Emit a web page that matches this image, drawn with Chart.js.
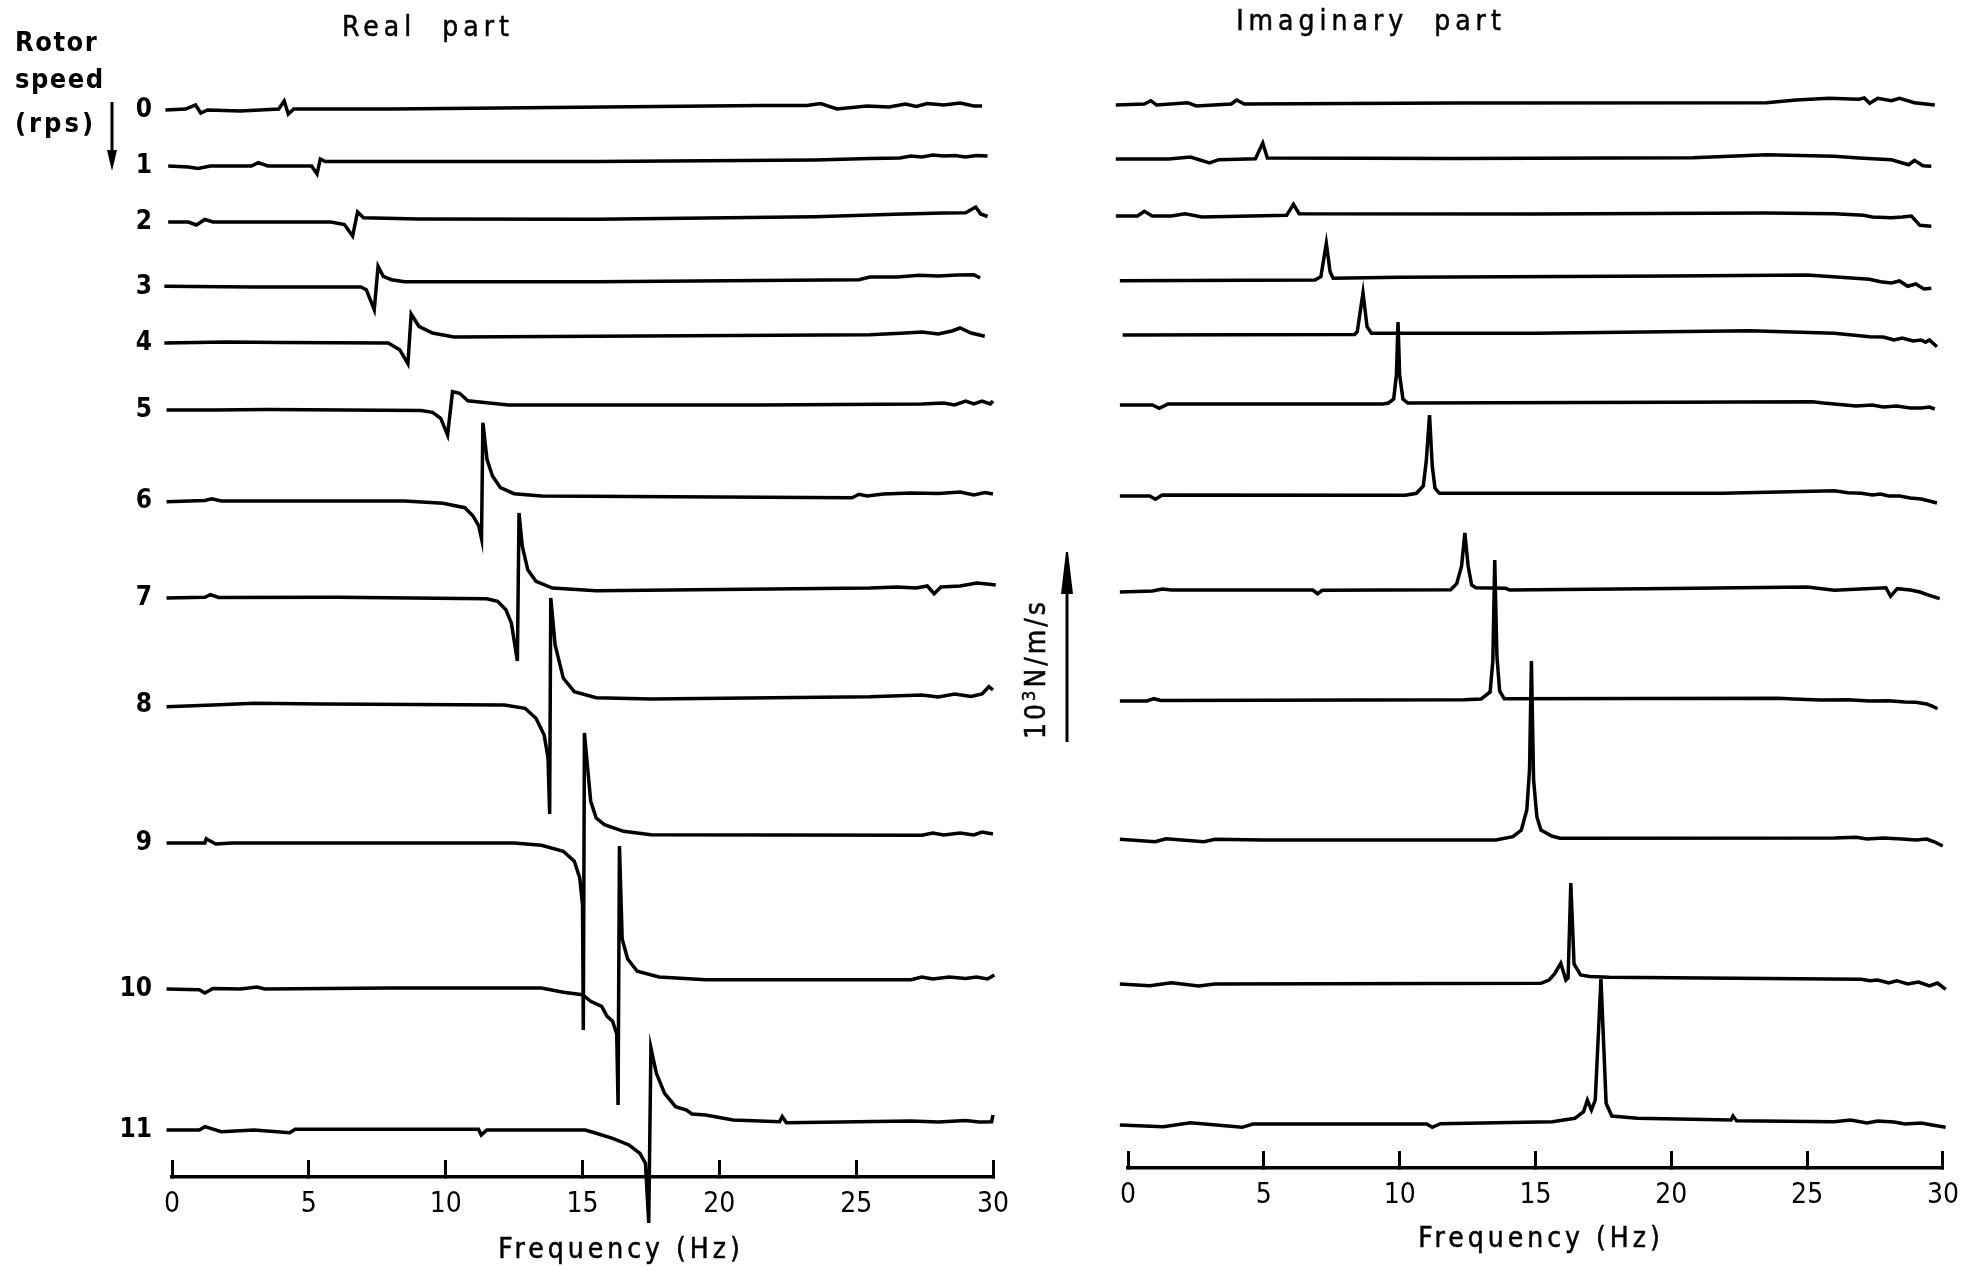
<!DOCTYPE html>
<html>
<head>
<meta charset="utf-8">
<script src="https://cdn.jsdelivr.net/npm/chart.js@4/dist/chart.umd.min.js"></script>
<style>
  body { margin: 0; background: #fff; }
  #wrap { position: relative; width: 1987px; height: 1271px; background: #fff; overflow: hidden;
          font-family: "DejaVu Sans Condensed", "Liberation Sans Narrow", "DejaVu Sans", sans-serif; color: #000; }
  canvas { position: absolute; top: 0; }
  .lbl { position: absolute; white-space: nowrap; font-size: 28px; letter-spacing: 5px; -webkit-text-stroke: 0.5px #000; }
  .rotor { position: absolute; left: 15px; font-weight: bold; font-size: 27px; letter-spacing: 1.5px; line-height: 30px; }
</style>
</head>
<body>
<div id="wrap">
  <canvas id="realChart" width="1060" height="1271" style="left:0;width:1060px;height:1271px"></canvas>
  <canvas id="imagChart" width="977" height="1271" style="left:1010px;width:977px;height:1271px"></canvas>

  <div class="rotor" style="top:27px">Rotor</div>
  <div class="rotor" style="top:64px">speed</div>
  <div class="rotor" style="top:108px;letter-spacing:3px">(rps)</div>
  <svg style="position:absolute;left:0;top:0" width="200" height="200">
    <line x1="112" y1="102" x2="112" y2="152" stroke="#000" stroke-width="3"/>
    <polygon points="107,150 117,150 112,171" fill="#000"/>
  </svg>

  <div class="lbl" style="left:328px;top:10px;width:200px;text-align:center">Real&nbsp;&nbsp;part</div>
  <div class="lbl" style="left:1221px;top:4px;width:300px;text-align:center">Imaginary&nbsp;&nbsp;part</div>
  <div class="lbl" style="left:471px;top:1232px;width:300px;text-align:center;letter-spacing:4px">Frequency (Hz)</div>
  <div class="lbl" style="left:1391px;top:1221px;width:300px;text-align:center;letter-spacing:4px">Frequency (Hz)</div>

  <div class="lbl" style="left:1035px;top:669px;transform:translate(-50%,-50%) rotate(-90deg);letter-spacing:3px">10<sup style="font-size:18px">3</sup>N/m/s</div>
  <svg style="position:absolute;left:1040px;top:540px" width="60" height="220">
    <line x1="27" y1="40" x2="27" y2="202" stroke="#000" stroke-width="3"/>
    <polygon points="21,54 33,54 28,12 26,12" fill="#000"/>
  </svg>
</div>

<script>
// frequency axis and rotor speeds
const freqTicks = [0, 5, 10, 15, 20, 25, 30];
const rotorSpeeds = [0, 1, 2, 3, 4, 5, 6, 7, 8, 9, 10, 11];

// baseline level of each trace (arbitrary units)
const realOffset = [106.7, 101.1, 95.5, 89.0, 83.4, 76.7, 67.6, 57.9, 47.2, 33.4, 18.8, 4.7];
const imagOffset = [106.4, 100.9, 95.2, 88.8, 83.3, 76.3, 67.2, 57.7, 46.7, 32.8, 18.4, 4.3];

// real part traces: [frequency Hz, deviation from baseline]
const real0 = [[-0.24,0],[0.5,0.1],[0.86,0.5],[1.05,-0.3],[1.3,0],[2.5,-0.1],[3.9,0.1],[4.1,0.9],[4.25,-0.4],[4.45,0.1],[8,0.1],[12,0.2],[21.5,0.45],[23.2,0.45],[23.7,0.65],[24.3,0.1],[25.4,0.4],[26.2,0.3],[26.8,0.6],[27.2,0.35],[27.6,0.65],[28.2,0.5],[28.8,0.7],[29.3,0.4],[29.6,0.4]];
const real1 = [[-0.14,0],[0.6,-0.1],[0.95,-0.25],[1.4,0],[2.9,0],[3.15,0.33],[3.5,0],[5.1,0],[5.3,-0.8],[5.42,0.7],[5.6,0.45],[10,0.45],[15.5,0.45],[23.5,0.6],[25.5,0.75],[26.6,0.8],[27.0,1.0],[27.4,0.9],[27.8,1.1],[28.2,1.0],[28.6,1.05],[29,0.9],[29.4,1.05],[29.8,1.0]];
const real2 = [[-0.14,0],[0.6,0],[0.89,-0.3],[1.2,0.25],[1.5,0],[5.8,0],[6.3,-0.25],[6.6,-1.4],[6.78,1.0],[7.0,0.43],[9,0.3],[15.5,0.27],[23.5,0.53],[26.4,0.77],[28.2,0.9],[29.0,0.93],[29.37,1.5],[29.55,0.8],[29.8,0.55]];
const real3 = [[-0.28,0.07],[3,0],[6.9,0],[7.1,-0.27],[7.39,-2.27],[7.53,2.07],[7.72,1.07],[8.02,0.73],[8.5,0.53],[15.5,0.53],[25.1,0.73],[25.5,1.0],[26.5,1.0],[27.3,1.17],[28,1.1],[28.7,1.2],[29.3,1.23],[29.53,0.9]];
const real4 = [[-0.28,0],[2,0.1],[4,0.05],[7.9,0],[8.32,-0.67],[8.62,-2.07],[8.74,2.9],[9.02,1.67],[9.52,1.0],[10.3,0.6],[15.5,0.67],[25.5,0.83],[26.8,1.0],[27.4,1.1],[28,0.9],[28.5,1.2],[28.8,1.5],[29.2,1.0],[29.7,0.67]];
const real5 = [[-0.2,0],[1.5,0],[3.5,0.05],[9.1,-0.05],[9.52,-0.23],[9.82,-0.83],[10.07,-2.5],[10.25,1.83],[10.51,1.67],[10.81,0.93],[11.5,0.73],[12.3,0.5],[21.5,0.5],[27.4,0.6],[28.2,0.7],[28.6,0.5],[29.0,0.9],[29.3,0.6],[29.6,0.9],[29.9,0.6],[30.0,0.9]];
const real6 = [[-0.2,-0.07],[1.2,0.05],[1.45,0.23],[1.8,0],[8.5,0],[9.9,-0.23],[10.7,-0.67],[11.0,-1.5],[11.21,-2.5],[11.31,-3.77],[11.36,7.83],[11.51,4.17],[11.71,2.5],[12.0,1.33],[12.5,0.73],[13.5,0.5],[24.85,0.33],[25.1,0.67],[25.4,0.5],[26,0.7],[27,0.8],[28,0.75],[28.8,0.9],[29.3,0.6],[29.7,0.85],[30,0.7]];
const real7 = [[-0.2,0],[1.2,0.07],[1.4,0.33],[1.7,0.05],[6,0.07],[11.5,-0.07],[11.9,-0.33],[12.2,-1.17],[12.4,-2.5],[12.62,-6.3],[12.68,8.5],[12.8,5.17],[13.0,2.83],[13.3,1.67],[13.9,1.0],[15.5,0.73],[25.5,1.0],[26.5,1.1],[27.2,1.0],[27.6,1.2],[27.85,0.43],[28.1,1.1],[28.8,1.2],[29.4,1.5],[29.8,1.4],[30.1,1.3]];
const real8 = [[-0.2,-0.17],[1.5,0],[3,0.17],[5.5,0.1],[12.15,0],[12.9,-0.33],[13.3,-1.33],[13.6,-3.0],[13.74,-5.3],[13.8,-10.9],[13.84,10.7],[14.0,6.0],[14.3,2.67],[14.7,1.33],[15.5,0.73],[17.5,0.6],[25.5,0.83],[27.4,1.0],[28.0,0.8],[28.6,1.1],[29.2,0.85],[29.6,1.1],[29.85,1.83],[30.0,1.5]];
const real9 = [[-0.2,0],[1.2,0],[1.25,0.43],[1.6,-0.1],[2.2,0],[12.5,0],[13.5,-0.23],[14.3,-0.83],[14.7,-1.83],[14.9,-3.5],[15.0,-6.2],[15.03,-18.7],[15.07,11.0],[15.3,4.17],[15.5,2.5],[15.8,1.83],[16.5,1.17],[17.5,0.83],[27.4,0.77],[27.8,1.0],[28.2,0.8],[28.8,1.0],[29.3,0.8],[29.6,1.1],[30,0.9]];
const real10 = [[-0.2,0],[1.0,-0.07],[1.2,-0.4],[1.5,0.05],[2.5,0],[3.1,0.2],[3.4,0],[8,0.1],[13.5,0.1],[14.3,-0.33],[15.0,-0.57],[15.3,-1.23],[15.7,-1.73],[15.9,-2.73],[16.1,-3.23],[16.25,-4.5],[16.3,-11.6],[16.35,14.3],[16.45,5.0],[16.65,3.0],[17.0,1.77],[17.8,1.2],[19.5,0.93],[27,0.93],[27.4,1.2],[27.8,1.0],[28.4,1.2],[29,1.05],[29.4,1.2],[29.8,1.0],[30.05,1.4]];
const real11 = [[-0.2,0],[1.0,0],[1.2,0.33],[1.8,-0.17],[3,0],[4.3,-0.27],[4.5,0.07],[11.2,0.07],[11.3,-0.5],[11.5,0],[15.1,0],[15.5,-0.33],[16.1,-0.83],[16.7,-1.5],[17.1,-2.33],[17.3,-3.33],[17.42,-9.3],[17.5,8.2],[17.7,5.67],[18.0,3.67],[18.4,2.33],[18.8,2.0],[19.0,1.6],[19.5,1.5],[20.5,1.0],[22.2,0.83],[22.3,1.33],[22.45,0.73],[27,0.9],[28,0.8],[29,0.95],[29.5,0.8],[29.95,0.83],[30.0,1.5]];

// imaginary part traces
const imag0 = [[-0.45,-0.1],[0.6,0],[0.84,0.33],[1.05,-0.1],[2.2,0.13],[2.51,-0.2],[3.8,0],[4.0,0.4],[4.28,0],[12,0.1],[23.5,0.13],[24.6,0.4],[25.8,0.57],[26.9,0.47],[27.1,0.6],[27.3,0.07],[27.6,0.57],[28.1,0.33],[28.4,0.57],[28.95,0.13],[29.7,-0.1]];
const imag1 = [[-0.45,0],[1.5,0],[2.3,0.2],[3.0,-0.4],[3.34,-0.07],[4.69,0.03],[4.96,1.6],[5.13,0.1],[12,0.05],[20.8,0.13],[23.5,0.43],[26.0,0.27],[26.9,0.1],[28.1,-0.07],[28.74,-0.57],[28.95,-0.13],[29.26,-0.67],[29.57,-0.73]];
const imag2 = [[-0.45,0],[0.35,0],[0.6,0.47],[0.89,0],[1.6,0],[2.1,0.23],[2.72,-0.1],[5.84,0.07],[6.09,1.17],[6.3,0.23],[15,0.2],[23.5,0.3],[26.0,0.23],[27.07,0.07],[27.4,-0.1],[28.1,-0.17],[28.5,-0.1],[28.84,0],[29.15,-0.93],[29.57,-1.03]];
const imag3 = [[-0.3,-0.07],[6.88,0],[7.1,0.33],[7.3,3.67],[7.44,0.83],[7.55,0.17],[10,0.27],[20,0.4],[25,0.5],[27.3,0.07],[27.7,-0.17],[28.1,-0.3],[28.4,-0.1],[28.7,-0.63],[29.0,-0.4],[29.3,-0.9],[29.57,-0.83]];
const imag4 = [[-0.2,0],[8.34,0.05],[8.44,0.33],[8.65,4.23],[8.8,0.83],[8.96,0.17],[15,0.17],[22.9,0.43],[26.0,0.17],[27.3,-0.17],[27.8,-0.2],[28.2,-0.5],[28.5,-0.3],[28.9,-0.6],[29.2,-0.5],[29.36,-0.73],[29.5,-0.5],[29.78,-1.17]];
const imag5 = [[-0.3,0],[0.9,0],[1.15,-0.33],[1.47,0.1],[9.38,0.1],[9.59,0.2],[9.78,0.6],[9.88,3.0],[9.94,8.3],[10.0,3.0],[10.12,0.6],[10.3,0.2],[20,0.27],[25.2,0.33],[25.6,0.2],[26.4,0],[26.8,-0.1],[27.4,0],[27.8,-0.2],[28.3,-0.1],[28.8,-0.3],[29.2,-0.3],[29.5,-0.2],[29.7,-0.4]];
const imag6 = [[-0.3,0],[0.8,0],[1.01,-0.33],[1.26,0.1],[10.21,0.07],[10.62,0.27],[10.87,1.0],[10.98,3.5],[11.1,8.1],[11.2,3.0],[11.3,0.8],[11.46,0.27],[21.9,0.27],[26.0,0.53],[26.5,0.33],[27.0,0.27],[27.4,0.1],[27.7,0.2],[28.0,0],[28.4,0],[28.8,-0.2],[29.2,-0.3],[29.5,-0.5],[29.78,-0.7]];
const imag7 = [[-0.3,-0.1],[0.9,0],[1.26,0.2],[1.6,0.1],[6.8,0.1],[6.98,-0.27],[7.15,0.07],[11.88,0.13],[12.1,0.73],[12.28,2.5],[12.4,5.8],[12.52,2.5],[12.65,0.6],[12.8,0.33],[13.9,0.27],[14.05,0.1],[20,0.25],[25.0,0.4],[26.0,0.07],[27.9,0.33],[28.07,-0.53],[28.32,0.23],[28.8,0.1],[29.15,-0.1],[29.5,-0.43],[29.88,-0.77]];
const imag8 = [[-0.3,0],[0.7,0],[0.95,0.23],[1.2,0.05],[12.36,0.13],[13.0,0.2],[13.33,0.9],[13.43,4.0],[13.5,14.1],[13.58,4.5],[13.68,1.0],[13.85,0.23],[23.95,0.27],[24.5,0.2],[25.5,0.1],[26.5,0.13],[27.3,0],[28.0,0.03],[28.6,-0.1],[29.0,-0.13],[29.4,-0.3],[29.6,-0.5],[29.8,-0.77]];
const imag9 = [[-0.3,0.07],[1.0,-0.17],[1.4,0.13],[2.8,-0.17],[3.2,0.07],[5,0],[13.54,0],[14.17,0.33],[14.48,1.0],[14.68,3.0],[14.78,7.0],[14.85,17.9],[14.93,6.0],[15.05,2.33],[15.2,1.0],[15.6,0.4],[15.9,0.17],[26.0,0.2],[26.8,0.27],[27.2,0.1],[27.8,0.2],[28.5,0.1],[29.0,0.0],[29.4,0.1],[29.7,-0.2],[29.99,-0.6]];
const imag10 = [[-0.3,0],[0.8,-0.17],[1.6,0.13],[2.6,-0.2],[3.2,0],[15.2,0.07],[15.5,0.4],[15.7,1.0],[15.93,2.07],[16.12,0.4],[16.2,0.6],[16.3,10.1],[16.42,2.0],[16.66,0.9],[17.0,0.75],[17.7,0.67],[27.0,0.47],[27.3,0.33],[27.6,0.4],[28.0,0.1],[28.3,0.33],[28.7,0],[29.1,0.2],[29.5,-0.2],[29.8,0.1],[30.1,-0.53]];
const imag11 = [[-0.3,0],[1.3,-0.17],[2.3,0.23],[4.2,-0.23],[4.6,0.1],[11.0,0.1],[11.2,-0.23],[11.5,0.13],[15.62,0.33],[16.45,0.67],[16.77,1.33],[16.91,2.5],[17.06,1.5],[17.2,2.5],[17.41,14.6],[17.6,2.17],[17.81,0.9],[18.75,0.67],[22.2,0.5],[22.27,0.9],[22.4,0.43],[26.0,0.33],[26.6,0.5],[27.2,0.2],[27.6,0.4],[28.2,0.3],[28.6,0.1],[29.2,0.2],[29.6,0],[30.1,-0.23]];

const realTraces = [real0, real1, real2, real3, real4, real5, real6, real7, real8, real9, real10, real11];
const imagTraces = [imag0, imag1, imag2, imag3, imag4, imag5, imag6, imag7, imag8, imag9, imag10, imag11];

const FONT = '"DejaVu Sans Condensed", "Liberation Sans Narrow", "DejaVu Sans", sans-serif';

function makeDatasets(traces, offsets) {
    return traces.map((pts, i) => ({
        label: rotorSpeeds[i] + ' rps',
        data: pts.map(([f, v]) => ({ x: f, y: offsets[i] + v })),
        borderColor: '#000',
        borderWidth: 3.5,
        pointRadius: 0,
        tension: 0,
        fill: false,
        clip: false
    }));
}

function freqAxis(axisHeight) {
    return {
        type: 'linear',
        min: 0,
        max: 30,
        afterBuildTicks: s => { s.ticks = freqTicks.map(v => ({ value: v })); },
        afterFit: s => { s.height = axisHeight; },
        ticks: { color: '#000', font: { family: FONT, size: 28 }, padding: 28, maxRotation: 0, autoSkip: false },
        grid: { drawOnChartArea: false, drawTicks: true, tickLength: -17, lineWidth: 3, color: '#000' },
        border: { display: true, width: 3.5, color: '#000' }
    };
}

new Chart(document.getElementById('realChart'), {
    type: 'line',
    data: { datasets: makeDatasets(realTraces, realOffset) },
    options: {
        responsive: false,
        animation: false,
        layout: { padding: { left: 0, right: 67, top: 57, bottom: 0 } },
        plugins: { legend: { display: false }, tooltip: { enabled: false } },
        scales: {
            x: freqAxis(94),
            y: {
                min: 0,
                max: 112,
                afterFit: s => { s.width = 172; },
                afterBuildTicks: s => { s.ticks = realOffset.map(v => ({ value: v })); },
                ticks: {
                    autoSkip: false,
                    color: '#000',
                    padding: 20,
                    font: { family: FONT, size: 26, weight: 'bold' },
                    callback: (v, i) => String(rotorSpeeds[i])
                },
                grid: { display: false, drawTicks: false },
                border: { display: false }
            }
        }
    }
});

new Chart(document.getElementById('imagChart'), {
    type: 'line',
    data: { datasets: makeDatasets(imagTraces, imagOffset) },
    options: {
        responsive: false,
        animation: false,
        layout: { padding: { left: 118, right: 44, top: 48, bottom: 0 } },
        plugins: { legend: { display: false }, tooltip: { enabled: false } },
        scales: {
            x: freqAxis(103),
            y: { display: false, min: 0, max: 112 }
        }
    }
});
</script>
</body>
</html>
